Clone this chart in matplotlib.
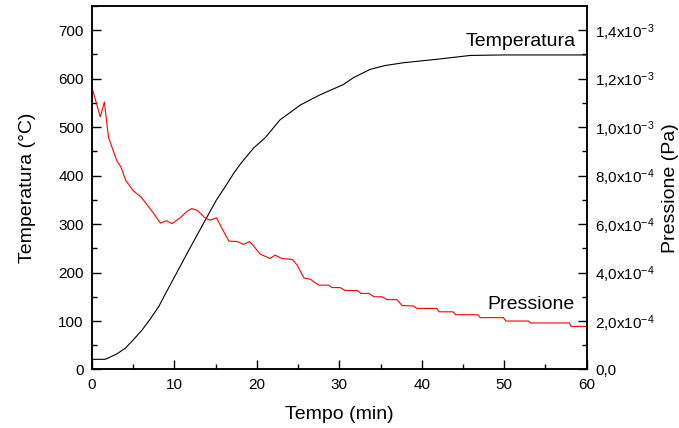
import matplotlib
matplotlib.use("Agg")
import matplotlib.pyplot as plt
from matplotlib.ticker import MultipleLocator, AutoMinorLocator, FixedLocator, FixedFormatter

plt.rcParams['font.family'] = ['Liberation Sans', 'DejaVu Sans']
plt.rcParams['mathtext.fontset'] = 'custom'
plt.rcParams['mathtext.rm'] = 'Liberation Sans'
plt.rcParams['mathtext.it'] = 'Liberation Sans:italic'

# Temperature profile (°C) vs time (min)
temp_time = [0, 1.6, 2.0, 3.0, 4.05, 5.0, 6.1, 7.1, 8.1, 8.9, 10.1, 11.9, 13.7,
             15.1, 16.0, 17.2, 18.0, 19.6, 21.0, 22.8, 25.3, 27.7, 30.5, 31.7,
             33.7, 35.5, 37.8, 41.8, 45.9, 50.0, 60.0]
temperature = [21, 21, 24, 32, 44, 61, 82, 105, 130, 156, 194, 251, 307,
               350, 373, 405, 424, 457, 478, 515, 546, 567, 588, 602,
               619, 627, 633, 640, 648, 649, 649]

# Chamber pressure (Pa) vs time (min)
press_time = [0, 1.0, 1.5, 2.0, 3.0, 3.5, 4.1, 5.0, 6.0, 7.4, 8.3, 9.0, 9.7,
              10.7, 11.5, 12.1, 12.8, 13.7, 14.3, 15.1, 15.8, 16.6, 17.6, 18.4,
              19.1, 19.6, 20.4, 21.6, 22.2, 23.0, 24.3, 24.9, 25.7, 26.5, 27.5,
              28.7, 29.1, 30.1, 30.7, 32.2, 32.6, 33.6, 34.2, 35.2, 35.8, 37.0,
              37.6, 39.0, 39.4, 41.8, 42.1, 43.8, 44.1, 46.8, 47.1, 49.9, 50.2,
              52.9, 53.2, 57.9, 58.1, 60.0]
pressure = [11.64e-4, 10.42e-4, 11.04e-4, 9.58e-4, 8.62e-4, 8.36e-4, 7.80e-4,
            7.38e-4, 7.10e-4, 6.48e-4, 6.04e-4, 6.14e-4, 6.02e-4,
            6.26e-4, 6.52e-4, 6.64e-4, 6.56e-4, 6.26e-4, 6.16e-4, 6.26e-4,
            5.80e-4, 5.30e-4, 5.28e-4, 5.16e-4,
            5.28e-4, 5.10e-4, 4.76e-4, 4.58e-4, 4.72e-4, 4.58e-4, 4.54e-4,
            4.30e-4, 3.78e-4, 3.72e-4, 3.48e-4,
            3.48e-4, 3.38e-4, 3.38e-4, 3.26e-4, 3.26e-4, 3.14e-4, 3.14e-4,
            3.00e-4, 3.00e-4, 2.88e-4, 2.88e-4,
            2.64e-4, 2.62e-4, 2.52e-4, 2.52e-4, 2.38e-4, 2.38e-4, 2.26e-4,
            2.26e-4, 2.14e-4, 2.14e-4, 2.00e-4,
            2.00e-4, 1.92e-4, 1.92e-4, 1.78e-4, 1.78e-4]

pressure_ticks = [0, 2e-4, 4e-4, 6e-4, 8e-4, 10e-4, 12e-4, 14e-4]
pressure_tick_labels = ['0,0',
                        r'2,0x10$^{\mathregular{-4}}$',
                        r'4,0x10$^{\mathregular{-4}}$',
                        r'6,0x10$^{\mathregular{-4}}$',
                        r'8,0x10$^{\mathregular{-4}}$',
                        r'1,0x10$^{\mathregular{-3}}$',
                        r'1,2x10$^{\mathregular{-3}}$',
                        r'1,4x10$^{\mathregular{-3}}$']

fig = plt.figure(figsize=(6.79, 4.28), dpi=100)
ax = fig.add_axes([0.1355, 0.1367, 0.7285, 0.8493])
ax2 = ax.twinx()

ax.plot(temp_time, temperature, color='black', lw=0.8)
ax2.plot(press_time, pressure, color='red', lw=0.8)

ax.set_xlim(0, 60)
ax.set_ylim(0, 750)
ax2.set_ylim(0, 1.5e-3)

ax.xaxis.set_major_locator(MultipleLocator(10))
ax.xaxis.set_minor_locator(AutoMinorLocator(2))
ax.yaxis.set_major_locator(MultipleLocator(100))
ax.yaxis.set_minor_locator(AutoMinorLocator(2))
ax2.yaxis.set_major_locator(FixedLocator(pressure_ticks))
ax2.yaxis.set_major_formatter(FixedFormatter(pressure_tick_labels))
ax2.yaxis.set_minor_locator(FixedLocator([1e-4, 3e-4, 5e-4, 7e-4, 9e-4, 11e-4, 13e-4]))

for a in (ax, ax2):
    a.tick_params(which='major', direction='in', length=6.5, width=1.0,
                  labelsize=11, pad=6)
    a.tick_params(which='minor', direction='in', length=3.5, width=1.0)
    for s in a.spines.values():
        s.set_linewidth(1.1)
ax.tick_params(top=False, right=False)

ax.set_xlabel('Tempo (min)', fontsize=14, labelpad=10)
ax.set_ylabel('Temperatura (°C)', fontsize=14, labelpad=16)
ax2.set_ylabel('Pressione (Pa)', fontsize=14, labelpad=5)

ax.text(58.7, 668, 'Temperatura', fontsize=14, ha='right', va='baseline')
ax.text(58.6, 125, 'Pressione', fontsize=14, ha='right', va='baseline')

fig.savefig('out.png', dpi=100)
